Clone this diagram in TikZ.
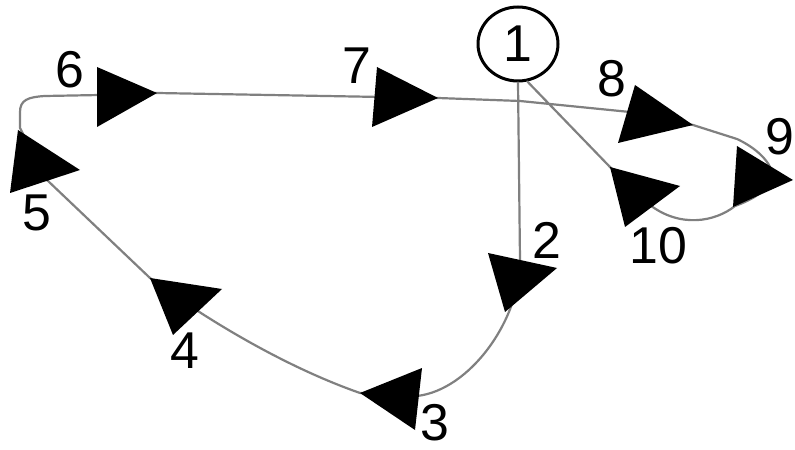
\documentclass[tikz,border=0pt]{standalone}
\usepackage{fontspec}
\setmainfont{Liberation Sans}
\usetikzlibrary{shapes.geometric}
\begin{document}
\begin{tikzpicture}[x=1bp,y=-1bp,
  edge/.style={draw=black!50, line width=2.2bp, line cap=round, line join=round},
  tri/.style={fill=black},
  lbl/.style={font=\fontsize{52}{52}\selectfont, inner sep=0pt}]
\useasboundingbox (0,0) rectangle (795,450);
\fill[white] (0,0) rectangle (795,450);
% start node
\node[draw, ellipse, line width=3bp, minimum width=80bp, minimum height=74bp, inner sep=0pt, lbl] (n1) at (518,44) {1};
% path points
\coordinate (j) at (520,101);
\coordinate (a) at (520,260);
\coordinate (c3) at (417,396);
\coordinate (t3) at (360,393);
\coordinate (t4) at (150,278);
\coordinate (p5) at (47,180);
\coordinate (t5) at (20,128);
\coordinate (b6) at (100,95);
\coordinate (t6) at (157,93);
\coordinate (t7) at (438,98);
\coordinate (b8) at (640,113);
\coordinate (t8) at (693,125);
\coordinate (p9) at (737,139);
\coordinate (q9) at (735,206);
\coordinate (b10) at (650,205);
\coordinate (t10) at (610,167);
% connectors
\draw[edge] (n1.south) -- (a) .. controls (520,320) and (470,390) .. (c3) -- (t3)
  .. controls (280,365) and (200,315) .. (t4) -- (p5) -- (t5) -- (20,112)
  .. controls (20,100) and (28,97) .. (45,96) -- (b6) -- (t6) -- (t7) -- (j) -- (b8) -- (t8) -- (p9)
  .. controls (752,146) and (768,158) .. (772,172)
  .. controls (774,188) and (752,200) .. (q9)
  .. controls (715,222) and (680,228) .. (b10) -- (t10) -- (n1.-76);
% arrowheads
\fill[tri] (488,253) -- (557,268) -- (505,312) -- cycle;
\fill[tri] (360,393) -- (422,368) -- (415,430) -- cycle;
\fill[tri] (150,278) -- (222,289) -- (173,335) -- cycle;
\fill[tri] (18,130) -- (80,170) -- (10,193) -- cycle;
\fill[tri] (157,93) -- (97,67) -- (97,127) -- cycle;
\fill[tri] (438,98) -- (377,67) -- (372,127) -- cycle;
\fill[tri] (693,125) -- (635,85) -- (618,143) -- cycle;
\fill[tri] (793,180) -- (737,146) -- (733,207) -- cycle;
\fill[tri] (610,167) -- (680,186) -- (625,227) -- cycle;
% labels
\node[lbl] (l2) at (547,240) {2};
\node[lbl] (l3) at (435,423) {3};
\node[lbl] (l4) at (185,351) {4};
\node[lbl] (l5) at (37,213) {5};
\node[lbl] (l6) at (70,70) {6};
\node[lbl] (l7) at (357,66) {7};
\node[lbl] (l8) at (612,79) {8};
\node[lbl] (l9) at (780,137) {9};
\node[lbl] (l10) at (658,246) {10};
\end{tikzpicture}
\end{document}
